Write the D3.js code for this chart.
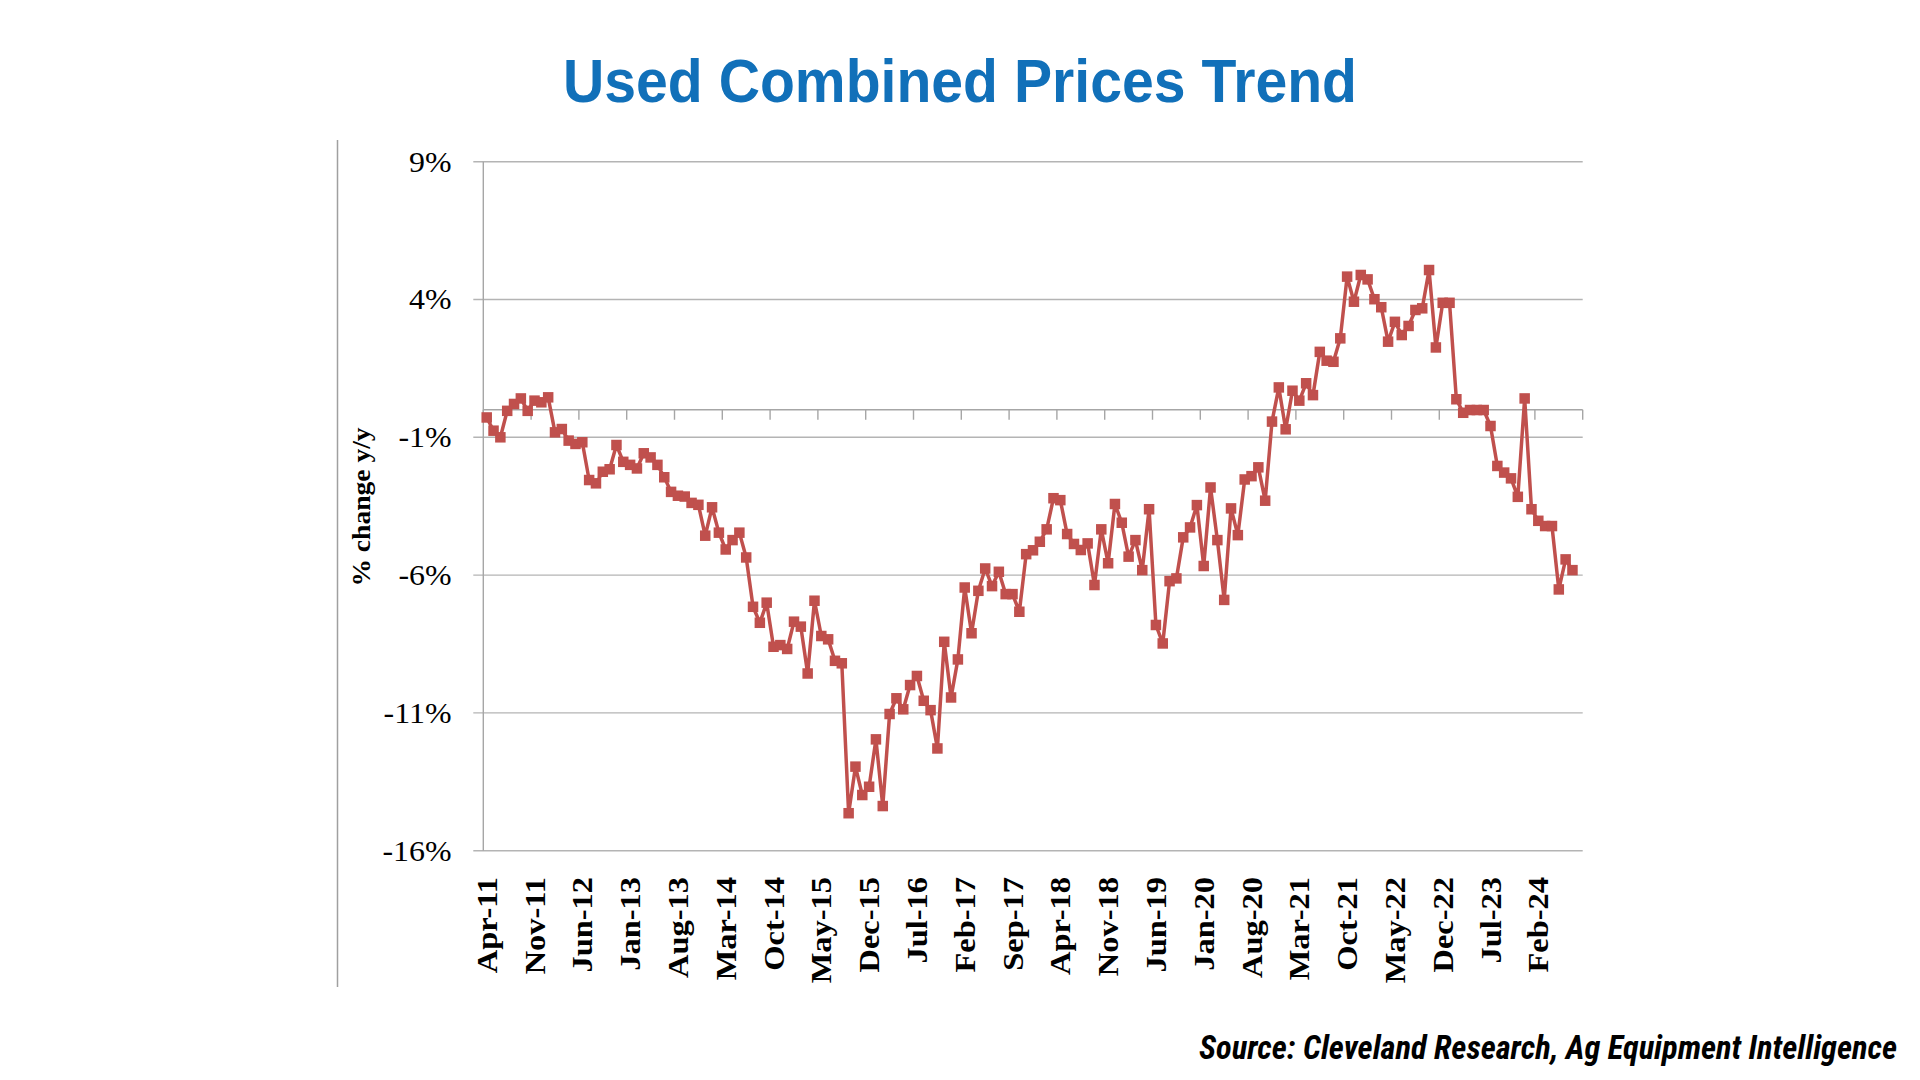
<!DOCTYPE html>
<html>
<head>
<meta charset="utf-8">
<script src="https://cdn.jsdelivr.net/npm/d3@7"></script>
<style>
  html, body { margin: 0; padding: 0; background: #ffffff; }
  svg { display: block; }
</style>
</head>
<body>
<svg id="chart" width="1920" height="1080"></svg>
<script>
// ---------------- DATA ----------------
const titleText = "Used Combined Prices Trend";
const sourceText = "Source: Cleveland Research, Ag Equipment Intelligence";
const yAxisTitle = "% change y/y";

// Monthly categories: Apr-11 .. Aug-24 (last month has no value yet)
const firstMonth = new Date(2011, 3, 1);
const monthCount = 161;

// Year-over-year % change, one value per month starting Apr-11
const values = [
  -0.28, -0.76, -1.00, -0.04, 0.21, 0.41, -0.04, 0.33, 0.27, 0.45,
  -0.82, -0.70, -1.12, -1.24, -1.18, -2.55, -2.67, -2.25, -2.16, -1.28,
  -1.89, -2.00, -2.13, -1.58, -1.73, -2.00, -2.45, -2.98, -3.12, -3.15,
  -3.38, -3.45, -4.57, -3.54, -4.46, -5.07, -4.73, -4.46, -5.36, -7.15,
  -7.73, -7.00, -8.60, -8.54, -8.68, -7.69, -7.87, -9.57, -6.93, -8.21,
  -8.33, -9.11, -9.20, -14.64, -12.95, -13.98, -13.68, -11.96, -14.38, -11.04,
  -10.47, -10.87, -9.99, -9.66, -10.56, -10.90, -12.29, -8.42, -10.44, -9.06,
  -6.45, -8.11, -6.57, -5.76, -6.40, -5.88, -6.69, -6.69, -7.33, -5.24,
  -5.10, -4.79, -4.34, -3.21, -3.28, -4.51, -4.87, -5.09, -4.85, -6.36,
  -4.34, -5.57, -3.42, -4.10, -5.33, -4.73, -5.82, -3.61, -7.81, -8.48,
  -6.22, -6.12, -4.63, -4.27, -3.46, -5.67, -2.82, -4.73, -6.90, -3.58,
  -4.55, -2.53, -2.41, -2.09, -3.30, -0.43, 0.81, -0.71, 0.69, 0.33,
  0.96, 0.53, 2.10, 1.78, 1.74, 2.59, 4.83, 3.92, 4.89, 4.73,
  4.01, 3.72, 2.47, 3.19, 2.71, 3.04, 3.62, 3.68, 5.07, 2.26,
  3.88, 3.88, 0.38, -0.11, -0.01, -0.01, -0.01, -0.59, -2.04, -2.28,
  -2.49, -3.16, 0.41, -3.61, -4.03, -4.22, -4.22, -6.52, -5.43, -5.82
];

const yTicks = [9, 4, -1, -6, -11, -16];
const xTickLabels = [
  "Apr-11", "Nov-11", "Jun-12", "Jan-13", "Aug-13", "Mar-14", "Oct-14",
  "May-15", "Dec-15", "Jul-16", "Feb-17", "Sep-17", "Apr-18", "Nov-18",
  "Jun-19", "Jan-20", "Aug-20", "Mar-21", "Oct-21", "May-22", "Dec-22",
  "Jul-23", "Feb-24"
];

// ---------------- BUILD ----------------
const fmt = d3.timeFormat("%b-%y");
const categories = d3.timeMonth
  .range(firstMonth, d3.timeMonth.offset(firstMonth, monthCount))
  .map(fmt);

const series = values.map((v, i) => ({ cat: categories[i], v }));

const svg = d3.select("#chart");
const plot = { left: 483.3, right: 1582.7, top: 161.7, bottom: 850.7 };

const x = d3.scaleBand().domain(categories).range([plot.left, plot.right]).paddingInner(0).paddingOuter(0);
const bw = x.bandwidth();
const cx = c => x(c) + bw / 2;
const y = d3.scaleLinear().domain([-16, 9]).range([plot.bottom, plot.top]);

const gridColor = "#b4b4b4";
const axisColor = "#a6a6a6";

// Title
svg.append("text")
  .attr("x", 960).attr("y", 101.5)
  .attr("text-anchor", "middle")
  .attr("font-family", "'Liberation Sans', Arial, sans-serif")
  .attr("font-weight", "bold")
  .attr("font-size", 61)
  .attr("fill", "#1170b9")
  .attr("textLength", 794)
  .attr("lengthAdjust", "spacingAndGlyphs")
  .text(titleText);

// Left separator line
svg.append("line")
  .attr("x1", 337.5).attr("x2", 337.5)
  .attr("y1", 140).attr("y2", 987)
  .attr("stroke", "#a0a0a0").attr("stroke-width", 1.5);

// Horizontal gridlines (with outward ticks on the value axis)
svg.append("g").selectAll("line")
  .data(yTicks)
  .join("line")
  .attr("x1", plot.left - 10).attr("x2", plot.right)
  .attr("y1", d => y(d)).attr("y2", d => y(d))
  .attr("stroke", gridColor).attr("stroke-width", 1.4);

// Value axis line
svg.append("line")
  .attr("x1", plot.left).attr("x2", plot.left)
  .attr("y1", y(9)).attr("y2", y(-16))
  .attr("stroke", axisColor).attr("stroke-width", 1.4);

// Value axis labels
svg.append("g").selectAll("text")
  .data(yTicks)
  .join("text")
  .attr("transform", d => `translate(451.5,${y(d)}) scale(1.1,1)`)
  .attr("dy", "0.34em")
  .attr("text-anchor", "end")
  .attr("font-family", "'Liberation Serif', 'Times New Roman', serif")
  .attr("font-size", 29)
  .attr("fill", "#000")
  .text(d => d + "%");

// Value axis title
svg.append("text")
  .attr("transform", `translate(361.5,507) rotate(-90) scale(1.06,1)`)
  .attr("dy", "0.33em")
  .attr("text-anchor", "middle")
  .attr("font-family", "'Liberation Serif', 'Times New Roman', serif")
  .attr("font-weight", "bold")
  .attr("font-size", 26)
  .attr("fill", "#000")
  .text(yAxisTitle);

// Category axis line crossing at 0
const y0 = y(0);
svg.append("line")
  .attr("x1", plot.left).attr("x2", plot.right)
  .attr("y1", y0).attr("y2", y0)
  .attr("stroke", axisColor).attr("stroke-width", 1.4);

const tickCats = categories.filter((c, i) => i % 7 === 0);
const tickXs = tickCats.map(c => x(c)).concat([plot.right]);
svg.append("g").selectAll("line")
  .data(tickXs)
  .join("line")
  .attr("x1", d => d).attr("x2", d => d)
  .attr("y1", y0).attr("y2", y0 + 10)
  .attr("stroke", axisColor).attr("stroke-width", 1.4);

// Category labels (low position, rotated)
svg.append("g").selectAll("text")
  .data(xTickLabels)
  .join("text")
  .attr("transform", d => `translate(${cx(d)},877) rotate(-90) scale(1.12,1)`)
  .attr("dy", "0.35em")
  .attr("text-anchor", "end")
  .attr("font-family", "'Liberation Serif', 'Times New Roman', serif")
  .attr("font-weight", "bold")
  .attr("font-size", 29)
  .attr("fill", "#000")
  .text(d => d);

// Series line
const lineColor = "#c0504d";
svg.append("path")
  .datum(series)
  .attr("d", d3.line().x(d => cx(d.cat)).y(d => y(d.v)))
  .attr("fill", "none")
  .attr("stroke", lineColor)
  .attr("stroke-width", 3.5)
  .attr("stroke-linejoin", "round");

// Square markers
const ms = 10.5;
svg.append("g").selectAll("rect")
  .data(series)
  .join("rect")
  .attr("x", d => cx(d.cat) - ms / 2)
  .attr("y", d => y(d.v) - ms / 2)
  .attr("width", ms).attr("height", ms)
  .attr("fill", lineColor);

// Source
svg.append("text")
  .attr("x", 1199).attr("y", 1059)
  .attr("font-family", "'Liberation Sans Narrow', 'Roboto Condensed', Roboto, sans-serif")
  .attr("font-weight", "bold")
  .attr("font-style", "italic")
  .attr("font-size", 33)
  .attr("fill", "#000")
  .attr("textLength", 698)
  .attr("lengthAdjust", "spacingAndGlyphs")
  .text(sourceText);
</script>
</body>
</html>
